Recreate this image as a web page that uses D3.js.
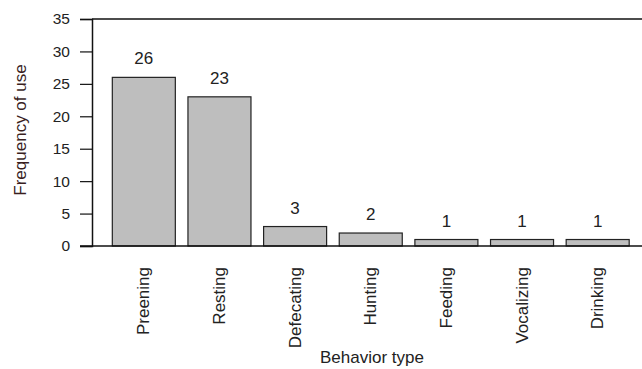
<!DOCTYPE html>
<html>
<head>
<meta charset="utf-8">
<script src="https://cdn.jsdelivr.net/npm/d3@7"></script>
<style>
  body { margin: 0; background: #fff; }
  svg { font-family: Arial, "Liberation Sans", sans-serif; }
</style>
</head>
<body>
<div id="chart"></div>
<script>
// dane
const behaviors = ["Preening", "Resting", "Defecating", "Hunting", "Feeding", "Vocalizing", "Drinking"];
const counts = [26, 23, 3, 2, 1, 1, 1];
const yTicks = [0, 5, 10, 15, 20, 25, 30, 35];

const width = 642;
const height = 369;

const svg = d3.select("#chart")
  .append("svg")
  .attr("width", width)
  .attr("height", height);

// skala X - kategorie
const x = d3.scaleBand()
  .domain(behaviors)
  .range([106, 635.5])
  .padding(0.167)
  .paddingOuter(0.0835);

// skala Y
const y = d3.scaleLinear()
  .domain([0, 35])
  .range([246, 19]);

// górna linia ramki
svg.append("line")
  .attr("x1", 92).attr("x2", width)
  .attr("y1", y(35)).attr("y2", y(35))
  .attr("stroke", "#111").attr("stroke-width", 1.5);

// słupki
svg.selectAll("rect.bar")
  .data(counts)
  .enter()
  .append("rect")
  .attr("class", "bar")
  .attr("x", (d, i) => x(behaviors[i]))
  .attr("y", d => y(d))
  .attr("width", x.bandwidth())
  .attr("height", d => y(0) - y(d))
  .attr("fill", "#bebebe")
  .attr("stroke", "#222")
  .attr("stroke-width", 1.2);

// etykiety wartości
svg.selectAll("text.val")
  .data(counts)
  .enter()
  .append("text")
  .attr("class", "val")
  .attr("x", (d, i) => x(behaviors[i]) + x.bandwidth() / 2)
  .attr("y", d => y(d) - 13)
  .attr("text-anchor", "middle")
  .attr("font-size", 17)
  .attr("fill", "#222")
  .text(d => d);

// oś Y
const yAxis = svg.append("g")
  .attr("transform", "translate(92,0)")
  .call(d3.axisLeft(y).tickValues(yTicks).tickSize(12).tickPadding(10));
yAxis.select(".domain").attr("stroke", "#111").attr("stroke-width", 1.5);
yAxis.selectAll(".tick line").attr("stroke", "#111").attr("stroke-width", 1.2);
yAxis.selectAll(".tick text").attr("font-size", 15.5).attr("fill", "#222").attr("font-family", null);

// oś X - linia bazowa
svg.append("line")
  .attr("x1", 80).attr("x2", width)
  .attr("y1", y(0)).attr("y2", y(0))
  .attr("stroke", "#111").attr("stroke-width", 1.5);

// etykiety kategorii (obrócone)
svg.selectAll("text.cat")
  .data(behaviors)
  .enter()
  .append("text")
  .attr("class", "cat")
  .attr("transform", d => "translate(" + (x(d) + x.bandwidth() / 2 + 5.5) + ",267) rotate(-90)")
  .attr("text-anchor", "end")
  .attr("font-size", 17)
  .attr("fill", "#222")
  .text(d => d);

// tytuły osi
svg.append("text")
  .attr("x", 372)
  .attr("y", 363)
  .attr("text-anchor", "middle")
  .attr("font-size", 17)
  .attr("fill", "#222")
  .text("Behavior type");

svg.append("text")
  .attr("transform", "translate(25.5,130) rotate(-90)")
  .attr("text-anchor", "middle")
  .attr("font-size", 17)
  .attr("fill", "#3a1f1f")
  .text("Frequency of use");
</script>
</body>
</html>
